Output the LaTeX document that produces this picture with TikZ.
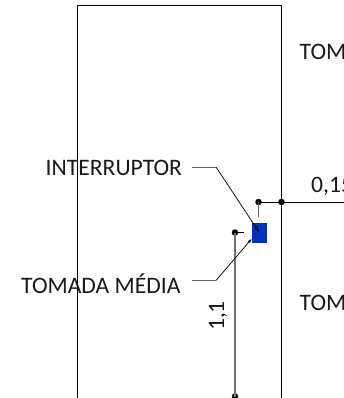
\documentclass[tikz,border=0pt]{standalone}
\usepackage{fontspec}
\setmainfont{Carlito}
\usetikzlibrary{arrows.meta}
\definecolor{boxblue}{RGB}{0,50,190}
\tikzset{
  x=1pt,y=-1pt,
  lbl/.style={inner sep=0pt,font=\fontsize{23.6}{26}\selectfont,anchor=base west,text=black!90},
  wall/.style={draw=black,line width=1pt},
  dim/.style={draw=black!55,line width=1.1pt},
  dimk/.style={draw=black,line width=1pt},
  dotn/.style={circle,fill=black,inner sep=0pt,minimum size=6.5pt},
  leader/.style={draw=black,line width=.7pt},
  tail/.style={draw=black!60,line width=.9pt},
}
\begin{document}
\begin{tikzpicture}
\useasboundingbox (0,0) rectangle (344,398);
\clip (0,0) rectangle (344,398);
\coordinate (wlb) at (77.5,398);
\coordinate (wlt) at (77.5,5.5);
\coordinate (wrt) at (281.5,5.5);
\coordinate (wrb) at (281.5,398);
\draw[wall] (wlb) -- (wlt) -- (wrt) -- (wrb);
\node[lbl] (t1) at (299.5,59.5) {TOM};
\node[lbl] (t2) at (299.5,310.5) {TOM};
\node[lbl] (int) at (45.5,175.5) {INTERRUPTOR};
\node[lbl] (med) at (21,293.5) {TOMADA MÉDIA};
\node[lbl] (dim15) at (311,192) {0,15};
\node[lbl,rotate=90,anchor=base] (dim11) at (224,316) {1,1};
\node[draw=boxblue,fill=boxblue,line width=.3pt,inner sep=0pt,minimum width=14.5pt,minimum height=19.5pt] (box) at (259,232.5) {};
\node[dotn] (d1) at (258.5,202) {};
\node[dotn] (d2) at (281.5,202) {};
\node[dotn] (d3) at (235,232.5) {};
\node[dotn] (d4) at (235,396.5) {};
\coordinate (e15) at (344,202);
\coordinate (stub) at (258.5,217);
\coordinate (stub3) at (244,232.5);
\draw[dimk] (d1.center) -- (e15);
\draw[tail] (d1.center) -- (stub);
\draw[dimk] (d3.center) -- (stub3);
\draw[dim] (d3.center) -- (d4.center);
\coordinate (a1) at (191.5,167);
\coordinate (a2) at (216,167);
\coordinate (a3) at (259,232);
\coordinate (b1) at (191.5,280.5);
\coordinate (b2) at (216,280.5);
\coordinate (b3) at (251.5,239);
\draw[tail] (a1) -- (a2);
\draw[tail] (b1) -- (b2);
\draw[leader,-{Triangle[open,length=6pt,width=3.5pt]}] (a2) -- (a3);
\draw[leader,-{Triangle[open,length=4pt,width=2.5pt]}] (b2) -- (b3);
\end{tikzpicture}
\end{document}
